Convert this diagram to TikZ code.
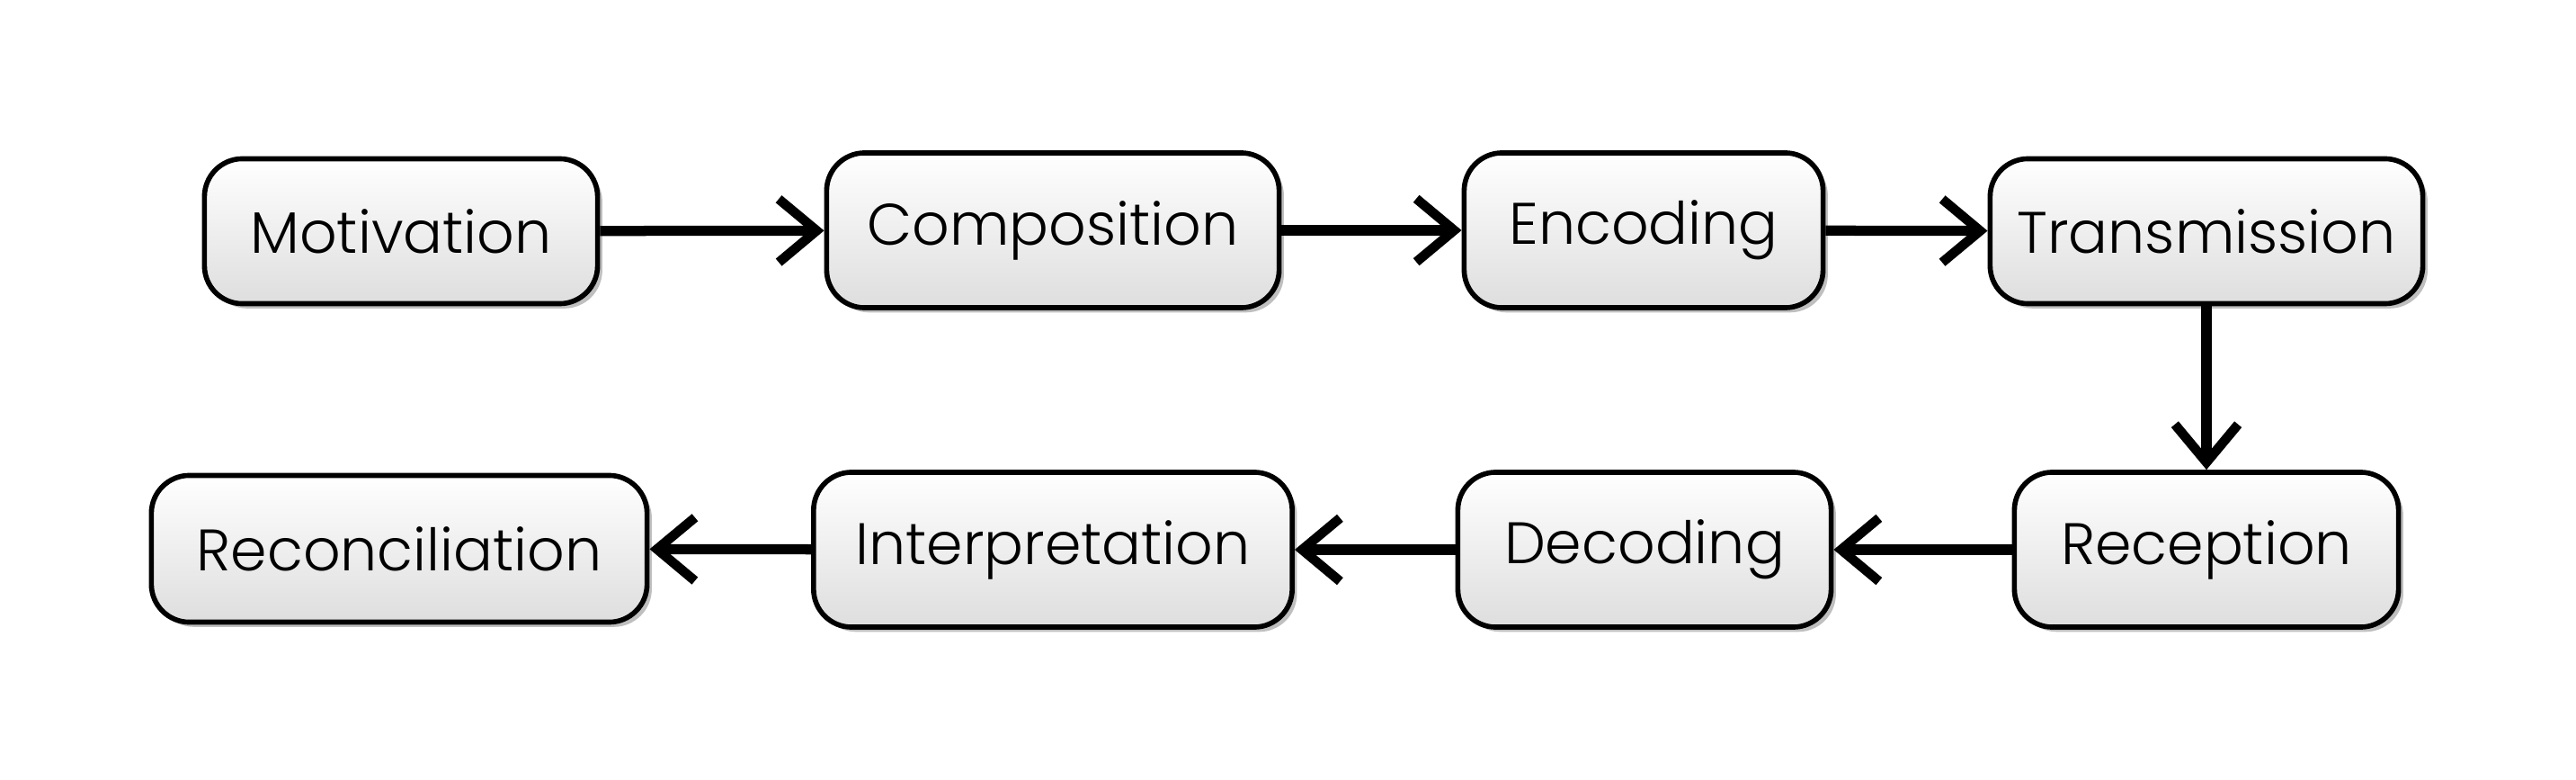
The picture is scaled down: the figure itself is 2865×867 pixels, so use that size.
\documentclass[tikz,border=0pt]{standalone}
\usepackage{fontspec}
\setmainfont{Poppins}[UprightFont=* Light]
\usetikzlibrary{arrows.meta,shadows}
\begin{document}
\begin{tikzpicture}[x=0.01cm,y=-0.01cm,
  stage/.style={draw=black, line width=1.6pt, rounded corners=12pt,
    top color=white, bottom color=black!13, inner sep=0pt,
    drop shadow={shadow xshift=1.5pt, shadow yshift=-1.5pt, opacity=0.25, fill=black},
    font=\fontsize{18.5}{20}\selectfont},
  flow/.style={line width=3.2pt, -{Straight Barb[length=12pt,width=20pt,line width=3pt]}}]
\useasboundingbox (0,0) rectangle (2865,867);
\node[stage, minimum width=4.37cm, minimum height=1.61cm] (mot) at (446,257) {Motivation};
\node[stage, minimum width=5.03cm, minimum height=1.72cm] (comp) at (1171,256) {Composition};
\node[stage, minimum width=3.99cm, minimum height=1.72cm] (enc) at (1828,256) {Encoding};
\node[stage, minimum width=4.81cm, minimum height=1.61cm] (trans) at (2454,257) {Transmission};
\node[stage, minimum width=4.27cm, minimum height=1.72cm] (rec) at (2454,611) {Reception};
\node[stage, minimum width=4.15cm, minimum height=1.72cm] (dec) at (1829,611) {Decoding};
\node[stage, minimum width=5.32cm, minimum height=1.72cm] (interp) at (1171,611) {Interpretation};
\node[stage, minimum width=5.51cm, minimum height=1.63cm] (recon) at (444,610) {Reconciliation};
\draw[flow] (mot) -- (comp);
\draw[flow] (comp) -- (enc);
\draw[flow] (enc) -- (trans);
\draw[flow] (trans) -- (rec);
\draw[flow] (rec) -- (dec);
\draw[flow] (dec) -- (interp);
\draw[flow] (interp) -- (recon);
\end{tikzpicture}
\end{document}
